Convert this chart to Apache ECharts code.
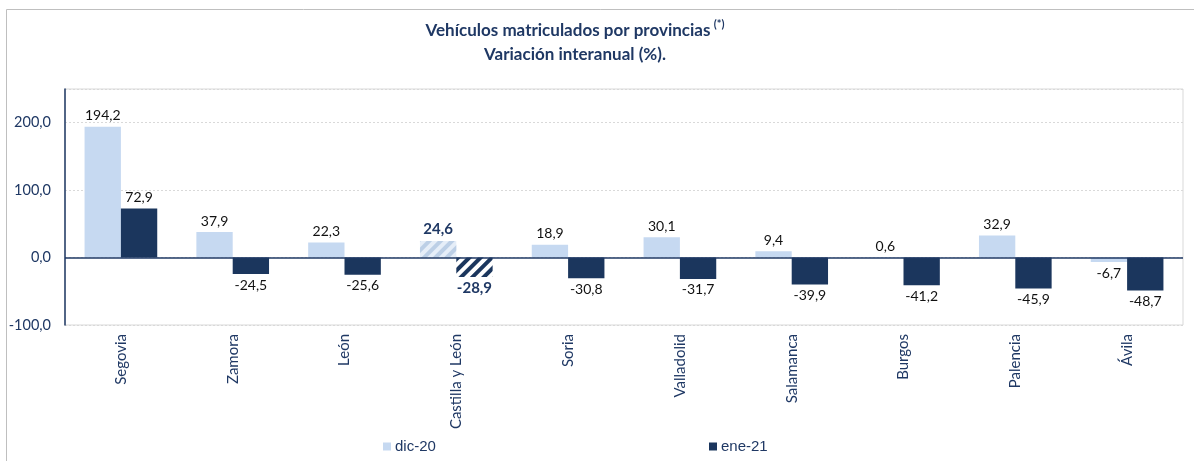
<!DOCTYPE html>
<html>
<head>
<meta charset="utf-8">
<script src="https://cdn.jsdelivr.net/npm/echarts@6/dist/echarts.min.js"></script>
<style>html,body{margin:0;padding:0;background:#fff;}#c{width:1194px;height:461px;}</style>
</head>
<body>
<div id="c"></div>
<script>
const categories = ['Segovia','Zamora','León','Castilla y León','Soria','Valladolid','Salamanca','Burgos','Palencia','Ávila'];
const dic20 = [194.2, 37.9, 22.3, 24.6, 18.9, 30.1, 9.4, 0.6, 32.9, -6.7];
const ene21 = [72.9, -24.5, -25.6, -28.9, -30.8, -31.7, -39.9, -41.2, -45.9, -48.7];
const seriesNames = ['dic-20', 'ene-21'];
const highlightCategory = 'Castilla y León';
const yTicks = [-100, 0, 100, 200];

const NAVY = '#1F3864';
const LIGHT = '#C6D9F1';
const DARK = '#1B365D';
const fmt = v => v.toFixed(1).replace('.', ',');

function buildData(values, baseColor, stripeColor) {
  return values.map((v, i) => {
    const hl = categories[i] === highlightCategory;
    const item = {
      value: v,
      label: { position: v < 0 ? 'bottom' : 'top' }
    };
    if (hl) {
      item.label.fontWeight = 'bold';
      item.label.color = NAVY;
      item.label.fontSize = 15;
      item.itemStyle = {
        color: baseColor,
        decal: {
          symbol: 'rect',
          dashArrayX: [1, 0],
          dashArrayY: [4, 4],
          rotation: -Math.PI / 4,
          color: stripeColor,
          symbolSize: 1
        }
      };
    }
    return item;
  });
}

const chart = echarts.init(document.getElementById('c'));
chart.setOption({
  animation: false,
  backgroundColor: '#fff',
  graphic: [
    { type: 'rect', shape: { x: 6.5, y: 9.5, width: 1300, height: 600 }, style: { fill: 'none', stroke: '#BFBFBF', lineWidth: 1 }, silent: true },
    {
      type: 'text', x: 575, y: 43,
      style: {
        text: '{t|Vehículos matriculados por provincias} {s|(*)}\n{t|Variación interanual (%).}',
        align: 'center', verticalAlign: 'middle',
        fill: NAVY,
        rich: {
          t: { fontFamily: 'Lato', fontWeight: 'bold', fontSize: 17, lineHeight: 24, fill: NAVY, color: NAVY },
          s: { fontFamily: 'Lato', fontWeight: 'bold', fontSize: 11, verticalAlign: 'top', lineHeight: 22, fill: NAVY, color: NAVY }
        }
      }
    }
  ],
  legend: [
    { data: [seriesNames[0]], left: 383, top: 439, padding: 0, icon: 'rect', itemWidth: 8, itemHeight: 8, itemGap: 0,
      textStyle: { fontFamily: 'Liberation Sans', fontSize: 15, color: NAVY, padding: [0,0,0,-1] } },
    { data: [seriesNames[1]], left: 709, top: 439, padding: 0, icon: 'rect', itemWidth: 8, itemHeight: 8, itemGap: 0,
      textStyle: { fontFamily: 'Liberation Sans', fontSize: 15, color: NAVY, padding: [0,0,0,-1] } }
  ],
  grid: { left: 65, right: 11, top: 89, bottom: 136, show: true, borderColor: '#D9D9D9', borderWidth: 1, backgroundColor: 'transparent' },
  xAxis: {
    type: 'category', data: categories,
    axisLine: { show: false, onZero: false },
    axisTick: { show: false },
    axisLabel: { rotate: 90, margin: 9, color: NAVY, fontFamily: 'Lato', fontSize: 15, interval: 0 }
  },
  yAxis: {
    type: 'value', min: -100, max: 250, interval: 100,
    axisLine: { show: true, lineStyle: { color: NAVY, width: 1.5 } },
    axisTick: { show: false },
    axisLabel: {
      margin: 14, color: NAVY, fontFamily: 'Lato', fontSize: 14.5, showMaxLabel: false,
      formatter: v => yTicks.indexOf(v) >= 0 ? fmt(v) : ''
    },
    splitLine: { show: true, lineStyle: { color: '#D9D9D9', type: [2, 2], width: 1 } }
  },
  series: [
    {
      name: seriesNames[0], type: 'bar', data: buildData(dic20, '#E6EEF8', '#BCCFE6'),
      itemStyle: { color: LIGHT },
      barGap: '0%', barCategoryGap: '35%',
      label: { show: true, distance: 4, fontFamily: 'Lato', fontSize: 14, color: '#111', formatter: p => fmt(p.value) },
      markLine: {
        silent: true, symbol: ['none', 'none'], label: { show: false },
        lineStyle: { color: NAVY, width: 1.5, type: 'solid' },
        data: [{ yAxis: 0 }]
      },
      z: 2
    },
    {
      name: seriesNames[1], type: 'bar', data: buildData(ene21, '#FFFFFF', DARK),
      itemStyle: { color: DARK },
      barGap: '0%', barCategoryGap: '35%',
      label: { show: true, distance: 4, fontFamily: 'Lato', fontSize: 14, color: '#111', formatter: p => fmt(p.value) },
      z: 2
    }
  ]
});
</script>
</body>
</html>
